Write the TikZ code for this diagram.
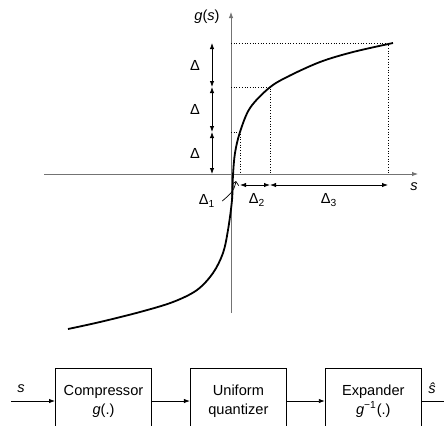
\documentclass[tikz,border=0pt]{standalone}
\usepackage{fontspec}
\setmainfont{Liberation Sans}
\usetikzlibrary{arrows.meta,positioning}

\begin{document}
\begin{tikzpicture}[
  x=0.5pt, y=-0.5pt,
  font=\fontsize{7.3}{9.5}\selectfont,
  node distance=19pt,
  axis/.style={draw=black!55, line width=0.45pt},
  guide/.style={densely dotted, line width=0.35pt},
  arrow/.style={-{Latex[length=3pt,width=2.2pt]}, line width=0.4pt},
  twoway/.style={{Latex[length=3pt,width=2.2pt]}-{Latex[length=3pt,width=2.2pt]}, line width=0.4pt},
  block/.style={draw, line width=0.45pt, minimum width=48pt, minimum height=33pt,
    align=center, inner sep=1pt},
  curve/.style={line width=0.9pt}
]
\useasboundingbox (0,0) rectangle (444,425);
\clip (0,0) rectangle (444,425);

% axes
\coordinate (xl) at (44,174);
\coordinate (xr) at (418,174);
\coordinate (yb) at (231,313);
\coordinate (yt) at (231,12);
\draw[axis, arrow] (xl) -- (xr);
\draw[axis, arrow] (yb) -- (yt);
\node (gs) at (207,17) {\textit{g}(\textit{s})};
\node (sx) at (414,187) {\textit{s}};

% levels and break points
\coordinate (q1) at (231,132);
\coordinate (q2) at (231,87);
\coordinate (q3) at (231,43);
\coordinate (p1) at (240,132);
\coordinate (p2) at (270,87);
\coordinate (p3) at (388,43);
\coordinate (f1) at (240,174);
\coordinate (f2) at (270,174);
\coordinate (f3) at (388,174);
\draw[guide] (q1) -- (p1) -- (f1);
\draw[guide] (q2) -- (p2) -- (f2);
\draw[guide] (q3) -- (p3) -- (f3);

% step sizes on the g(s) axis
\coordinate (d0) at (212,174);
\coordinate (d1) at (212,132);
\coordinate (d2) at (212,87);
\coordinate (d3) at (212,43);
\draw[twoway] (d0) -- (d1);
\draw[twoway] (d1) -- (d2);
\draw[twoway] (d2) -- (d3);
\node (dl1) at (195,153) {Δ};
\node (dl2) at (195,109) {Δ};
\node (dl3) at (195,65) {Δ};

% step sizes on the s axis
\coordinate (h1) at (240,185);
\coordinate (h2) at (270,185);
\coordinate (h3) at (388,185);
\draw[twoway] (h1) -- (h2);
\draw[twoway] (h2) -- (h3);
\node (s2) at (257,200) {Δ\textsubscript{2}};
\node (s3) at (329,200) {Δ\textsubscript{3}};
\node (s1) at (207,201) {Δ\textsubscript{1}};
\draw[line width=0.35pt, -{Straight Barb[length=1.8pt,width=3.5pt]}]
  (s1.east) .. controls (229,195) and (234,192) .. (236,181);

% compressor characteristic
\draw[curve] plot[smooth, tension=0.55] coordinates {
  (68,329) (100,322) (140,312) (173,302) (197,290) (213,273) (223,253)
  (228,230) (232,200) (233,175) (235,153) (240,132) (250,108) (269,88)
  (287,77) (320,62) (353,52) (393,43)};

% block diagram
\node[block] (comp) at (103.5,401) {Compressor\\\textit{g}(.)};
\node[block, right=of comp] (quant) {Uniform\\quantizer};
\node[block, right=of quant] (expa) {Expander\\\textit{g}\textsuperscript{−1}(.)};
\coordinate (in) at (11,401);
\coordinate (out) at (444,401);
\draw[arrow] (in) -- (comp);
\draw[arrow] (comp) -- (quant);
\draw[arrow] (quant) -- (expa);
\draw[line width=0.4pt] (expa) -- (out);
\node (sin) at (21,389) {\textit{s}};
\node (sout) at (432,388) {\textit{ŝ}};
\end{tikzpicture}
\end{document}
